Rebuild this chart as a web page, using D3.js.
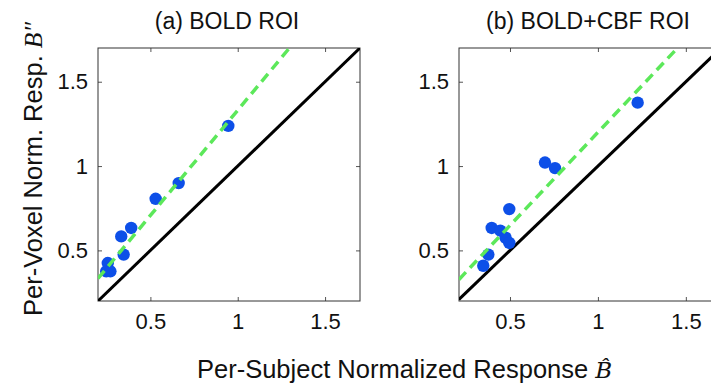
<!DOCTYPE html>
<html>
<head>
<meta charset="utf-8">
<script src="https://cdn.jsdelivr.net/npm/d3@7"></script>
<style>
  body { margin: 0; background: #fff; }
  svg { display: block; font-family: "Liberation Sans", Arial, sans-serif; }
</style>
</head>
<body>
<div id="chart"></div>
<script>
// values
const ticks = [0.5, 1, 1.5];
const tickLabels = ['0.5', '1', '1.5'];

const titles = ['(a) BOLD ROI', '(b) BOLD+CBF ROI'];

const subjA = [0.946, 0.662, 0.530, 0.390, 0.333, 0.347, 0.256, 0.247, 0.271];
const voxelA = [1.238, 0.899, 0.806, 0.633, 0.583, 0.475, 0.425, 0.376, 0.376];
const fitA = [1.247, 0.084]; // slope, intercept

const subjB = [1.226, 0.699, 0.756, 0.496, 0.396, 0.445, 0.475, 0.496, 0.377, 0.348];
const voxelB = [1.376, 1.021, 0.988, 0.745, 0.633, 0.617, 0.575, 0.544, 0.475, 0.409];
const fitB = [1.104, 0.096];

const width = 711, height = 388;
const plotTop = 48, plotBottom = 301;

const svg = d3.select('#chart')
  .append('svg')
  .attr('width', width)
  .attr('height', height);

const panels = [
  {title: titles[0], xs: subjA, ys: voxelA, fit: fitA, left: 98, right: 360, xDom: [0.2, 1.7]},
  {title: titles[1], xs: subjB, ys: voxelB, fit: fitB, left: 459, right: 721, xDom: [0.21, 1.7]}
];

const y = d3.scaleLinear().domain([0.2, 1.7]).range([plotBottom, plotTop]);

panels.forEach((p, i) => {
  const x = d3.scaleLinear().domain(p.xDom).range([p.left, p.right]);
  const g = svg.append('g');

  const clipId = 'clip' + i;
  svg.append('clipPath').attr('id', clipId)
    .append('rect')
    .attr('x', p.left).attr('y', plotTop)
    .attr('width', p.right - p.left).attr('height', plotBottom - plotTop);

  // axes, MATLAB style: box with inward ticks
  g.append('g')
    .attr('transform', 'translate(0,' + plotBottom + ')')
    .call(d3.axisBottom(x).tickValues(ticks).tickSize(-4).tickFormat((d, k) => tickLabels[k]).tickPadding(12))
    .call(a => a.select('.domain').remove());
  g.append('g')
    .attr('transform', 'translate(0,' + plotTop + ')')
    .call(d3.axisTop(x).tickValues(ticks).tickSize(-4).tickFormat(''))
    .call(a => a.select('.domain').remove());
  g.append('g')
    .attr('transform', 'translate(' + p.left + ',0)')
    .call(d3.axisLeft(y).tickValues(ticks).tickSize(-4).tickFormat((d, k) => tickLabels[k]).tickPadding(10))
    .call(a => a.select('.domain').remove());
  g.append('g')
    .attr('transform', 'translate(' + p.right + ',0)')
    .call(d3.axisRight(y).tickValues(ticks).tickSize(-4).tickFormat(''))
    .call(a => a.select('.domain').remove());

  g.selectAll('.tick line').attr('stroke', '#555').attr('stroke-width', 1);
  g.selectAll('.tick text')
    .attr('fill', '#111')
    .style('font-size', '22px')
    .style('font-family', '"Liberation Sans", Arial, sans-serif');

  g.append('rect')
    .attr('x', p.left).attr('y', plotTop)
    .attr('width', p.right - p.left).attr('height', plotBottom - plotTop)
    .attr('fill', 'none').attr('stroke', '#333').attr('stroke-width', 1);

  const plot = g.append('g').attr('clip-path', 'url(#' + clipId + ')');

  // identity line
  plot.append('line')
    .attr('x1', x(p.xDom[0])).attr('y1', y(p.xDom[0]))
    .attr('x2', x(1.7)).attr('y2', y(1.7))
    .attr('stroke', '#000').attr('stroke-width', 3);

  plot.selectAll('circle')
    .data(p.xs)
    .enter()
    .append('circle')
    .attr('cx', d => x(d))
    .attr('cy', (d, k) => y(p.ys[k]))
    .attr('r', 6.2)
    .style('fill', '#0d4fe8');

  // fitted line
  const xEnd = p.xDom[1];
  plot.append('line')
    .attr('x1', x(p.xDom[0])).attr('y1', y(p.fit[0] * p.xDom[0] + p.fit[1]))
    .attr('x2', x(xEnd)).attr('y2', y(p.fit[0] * xEnd + p.fit[1]))
    .attr('stroke', '#5ce85a').attr('stroke-width', 3.5)
    .attr('stroke-dasharray', '10,6');

  svg.append('text')
    .attr('x', (p.left + p.right) / 2 - 2)
    .attr('y', 29)
    .attr('text-anchor', 'middle')
    .style('font-size', '23px')
    .attr('fill', '#111')
    .text(p.title);
});

// x axis title
const xt = svg.append('text')
  .attr('x', 197).attr('y', 378)
  .style('font-size', '25.5px')
  .attr('fill', '#111');
xt.append('tspan').text('Per-Subject Normalized Response ');
xt.append('tspan')
  .style('font-family', '"DejaVu Serif", "Liberation Serif", serif')
  .style('font-style', 'italic')
  .style('font-size', '23px')
  .text('B\u0302');

// y axis title
const yt = svg.append('text')
  .attr('transform', 'translate(42,169) rotate(-90)')
  .attr('text-anchor', 'middle')
  .style('font-size', '25.5px')
  .attr('fill', '#111');
yt.append('tspan').text('Per-Voxel Norm. Resp. ');
yt.append('tspan')
  .style('font-family', '"Liberation Serif", "Times New Roman", serif')
  .style('font-style', 'italic')
  .text('B\u2033');
</script>
</body>
</html>
